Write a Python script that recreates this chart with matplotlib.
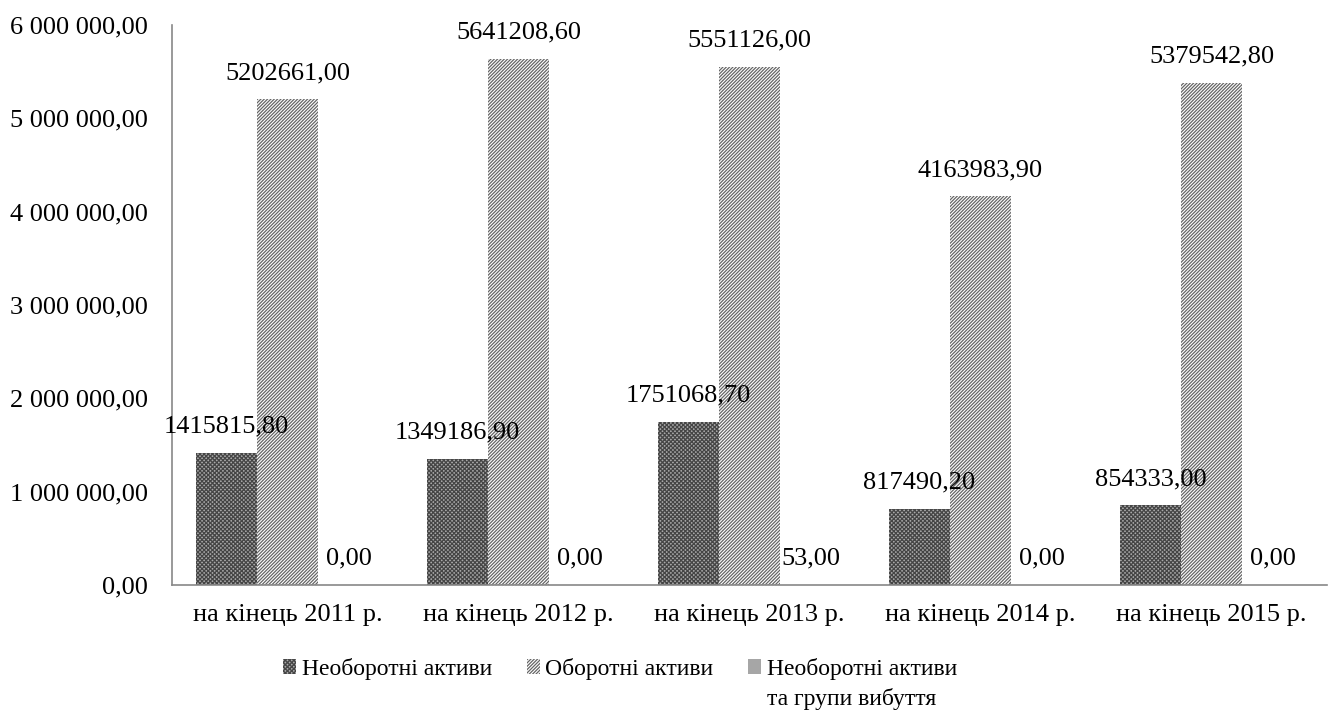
import matplotlib
matplotlib.use('Agg')
import matplotlib.pyplot as plt
import numpy as np

plt.rcParams['font.family'] = ['Liberation Serif', 'DejaVu Serif']
plt.rcParams['hatch.linewidth'] = 0.9

# дані
categories = ['на кінець 2011 р.', 'на кінець 2012 р.', 'на кінець 2013 р.',
              'на кінець 2014 р.', 'на кінець 2015 р.']
neoborotni = [1415815.80, 1349186.90, 1751068.70, 817490.20, 854333.00]
oborotni = [5202661.00, 5641208.60, 5551126.00, 4163983.90, 5379542.80]
grupy_vybuttia = [0.00, 0.00, 53.00, 0.00, 0.00]
series_names = ['Необоротні активи', 'Оборотні активи', 'Необоротні активи']
extra_line = 'та групи вибуття'
y_ticks = [0, 1000000, 2000000, 3000000, 4000000, 5000000, 6000000]


def fmt_ua(v, sep=''):
    s = f'{v:,.2f}'.replace(',', ' ' if sep else '').replace('.', ',')
    return s


fig = plt.figure(figsize=(13.36, 7.15), dpi=100)
ax = fig.add_axes([0.1287, 0.1818, 0.8646, 0.7832])

x = np.arange(len(categories))
w = 0.264

b1 = ax.bar(x - w, neoborotni, w, facecolor='#a8a8a8', edgecolor='#454545',
            hatch='xxxxxxxx', linewidth=0, label=series_names[0])
b2 = ax.bar(x, oborotni, w, facecolor='white', edgecolor='#666666',
            hatch='//////////', linewidth=0, label=series_names[1])
b3 = ax.bar(x + w, grupy_vybuttia, w, facecolor='#a6a6a6', linewidth=0,
            label=series_names[2])

for bars, vals in [(b1, neoborotni), (b2, oborotni), (b3, grupy_vybuttia)]:
    for rect, v in zip(bars, vals):
        ax.annotate(fmt_ua(v), (rect.get_x() + rect.get_width() / 2, v),
                    xytext=(0, 11), textcoords='offset points',
                    ha='center', va='bottom', fontsize=19)

ax.set_xlim(-0.5, len(categories) - 0.5)
ax.set_ylim(0, 6000000)
ax.set_yticks(y_ticks)
ax.set_yticklabels([fmt_ua(v, ' ') for v in y_ticks], fontsize=19)
ax.set_xticks(x)
ax.set_xticklabels(categories, fontsize=19)
ax.tick_params(axis='both', length=0)
ax.tick_params(axis='y', pad=17)
ax.tick_params(axis='x', pad=14)

for side in ['top', 'right']:
    ax.spines[side].set_visible(False)
for side in ['left', 'bottom']:
    ax.spines[side].set_color('#888888')
    ax.spines[side].set_linewidth(1.2)

leg = fig.legend(handles=[b1, b2, b3], loc='upper left', bbox_to_anchor=(0.212, 0.08),
                 ncol=3, frameon=False, fontsize=17, handlelength=0.55,
                 handleheight=0.55, handletextpad=0.25, columnspacing=1.45,
                 borderaxespad=0, borderpad=0)

# другий рядок третього елемента легенди
fig.canvas.draw()
t3 = leg.get_texts()[2].get_window_extent()
fig.text(t3.x0 / fig.bbox.width, t3.y0 / fig.bbox.height - 0.012, extra_line,
         ha='left', va='top', fontsize=17)

fig.savefig('out.png', dpi=100)
